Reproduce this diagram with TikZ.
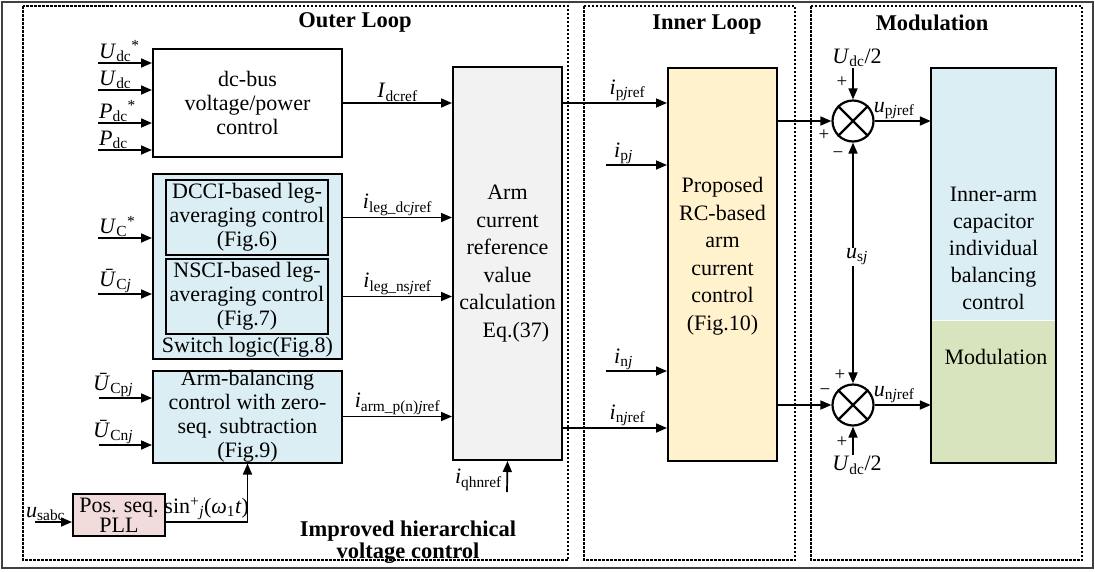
\documentclass[tikz,border=0pt]{standalone}
\usepackage{fontspec}
\setmainfont{Liberation Serif}
\usetikzlibrary{arrows.meta, calc}
\definecolor{blkblue}{HTML}{DAEEF3}
\definecolor{blkgrey}{HTML}{F2F2F2}
\definecolor{blkyellow}{HTML}{FFF2CC}
\definecolor{blkpink}{HTML}{F2DCDB}
\definecolor{blkgreen}{HTML}{D7E4BD}
\newcommand{\sgl}[2]{\textit{#1}\textsubscript{#2}}
\newcommand{\ubar}[1]{\textit{\=U}\textsubscript{#1}}

\begin{document}
\begin{tikzpicture}[
  x=1pt, y=-1pt,
  lbl/.style={font=\fontsize{22}{24}\selectfont, inner sep=1pt},
  blk/.style={draw=black, line width=2pt, align=center, inner sep=0pt,
              font=\fontsize{22}{24}\selectfont},
  tall/.style={blk, minimum width=109pt, minimum height=393pt,
               font=\fontsize{22}{27.5}\selectfont},
  sumjn/.style={circle, draw=black, line width=2.2pt, minimum size=41pt,
                inner sep=0pt},
  sig/.style={-{Triangle[length=11pt,width=9pt]}, line width=1.7pt},
  loopbox/.style={draw=black, line width=1.2pt, dash pattern=on 2.5pt off 1.5pt},
  title/.style={font=\fontsize{22.5}{19}\selectfont\bfseries, align=center},
  sgn/.style={font=\fontsize{19}{19}\selectfont, inner sep=0pt}]

  \useasboundingbox (0,0) rectangle (1095,571);
  \draw[line width=1.5pt, black!75] (2,2) rectangle (1093,568);

  % --- the three loops
  \draw[loopbox] (23,6) rectangle (568,560);
  \draw[loopbox] (584,6) rectangle (795,560);
  \draw[loopbox] (811,6) rectangle (1082,560);
  \node[title] (tout) at (355,22) {Outer Loop};
  \node[title] (tinn) at (707,25) {Inner Loop};
  \node[title] (tmod) at (932,23) {Modulation};
  \node[title] (timp) at (408,542) {Improved hierarchical\\voltage control};

  % --- outer loop blocks
  \node[blk, minimum width=189pt, minimum height=108pt] (dcbus) at (247.5,103)
    {dc-bus\\voltage/power\\control};
  \node[blk, fill=blkblue, minimum width=189pt, minimum height=185pt] (swl) at (247.5,266.5) {};
  \node[blk, fill=blkblue, minimum width=162pt, minimum height=75pt] (dcci) at (247,217.5)
    {DCCI-based leg-\\averaging control\\(Fig.6)};
  \node[blk, fill=blkblue, minimum width=162pt, minimum height=75pt] (nsci) at (247,296.5)
    {NSCI-based leg-\\averaging control\\(Fig.7)};
  \node[lbl] (swt) at (247.5,347) {Switch logic(Fig.8)};
  \node[blk, fill=blkblue, minimum width=189pt, minimum height=91pt] (armb) at (247.5,416.5)
    {Arm-balancing\\control with zero-\\seq. subtraction\\(Fig.9)};
  \node[blk, fill=blkpink, minimum width=92pt, minimum height=42pt,
        font=\fontsize{22}{18}\selectfont] (pll) at (119,515) {Pos. seq.\\PLL};
  \node[tall, fill=blkgrey] (calc) at (507.5,263.5)
    {Arm\\current\\reference\\value\\calculation\\\hspace*{17pt}Eq.(37)};

  % --- inputs on the left
  \foreach \y/\t [count=\i] in {63/{\sgl{U}{dc}\textsuperscript{*}}, 90/{\sgl{U}{dc}},
                                123/{\sgl{P}{dc}\textsuperscript{*}}, 150/{\sgl{P}{dc}}} {
    \coordinate (udc\i) at (98,\y);
    \node[lbl, anchor=south west] (ludc\i) at (udc\i) {\t};
    \draw[sig] (udc\i) -- (udc\i -| dcbus.west);
  }
  \foreach \y/\t [count=\i] in {238/{\sgl{U}{C}\textsuperscript{*}}, 294/{\ubar{C\textit{j}}}} {
    \coordinate (uc\i) at (98,\y);
    \node[lbl, anchor=south west] (luc\i) at (uc\i) {\t};
    \draw[sig] (uc\i) -- (uc\i -| swl.west);
  }
  \foreach \y/\t [count=\i] in {398/{\ubar{Cp\textit{j}}}, 445/{\ubar{Cn\textit{j}}}} {
    \coordinate (ucp\i) at (99,\y);
    \node[lbl, anchor=south west, xshift=-7pt] (lucp\i) at (ucp\i) {\t};
    \draw[sig] (ucp\i) -- (ucp\i -| armb.west);
  }

  % --- into the reference calculation
  \draw[sig] (dcbus.east) -- node[lbl, above] (lidc) {\sgl{I}{dcref}} (dcbus.east -| calc.west);
  \draw[sig] (dcci.east -| swl.east) -- node[lbl, above] (lidcj)
    {\sgl{i}{leg\_dc\textit{j}ref}} (dcci.east -| calc.west);
  \draw[sig] (nsci.east -| swl.east) -- node[lbl, above] (linsj)
    {\sgl{i}{leg\_ns\textit{j}ref}} (nsci.east -| calc.west);
  \draw[sig] (armb.east) -- node[lbl, above] (liarm)
    {\sgl{i}{arm\_p(n)\textit{j}ref}} (armb.east -| calc.west);
  \coordinate (qhn) at (507,492);
  \node[lbl, anchor=south east, xshift=-4pt] (lqhn) at (qhn) {\sgl{i}{qhnref}};
  \draw[sig] (qhn) -- (calc.south);

  % --- PLL
  \coordinate (usabc) at (35,522);
  \node[lbl, anchor=south west, xshift=-10pt] (lusabc) at (usabc) {\sgl{u}{sabc}};
  \draw[sig] (usabc) -- (usabc -| pll.west);
  \draw[sig] (usabc -| pll.east) -- node[lbl, above] (lsin)
    {sin\textsuperscript{+}\textsubscript{\textit{j}}(\textit{ω}\textsubscript{1}\textit{t})}
    (usabc -| armb.south) -- (armb.south);

  % --- inner loop
  \node[tall, fill=blkyellow] (rcc) at (722.5,264) {};
  \node[lbl, align=center, font=\fontsize{22}{27.5}\selectfont] (trcc) at (722.5,256)
    {Proposed\\RC-based\\arm\\current\\control\\(Fig.10)};
  \coordinate (njref) at (calc.east |- 0,428);
  \draw[sig] (dcbus.east -| calc.east) -- node[lbl, above, pos=0.62] (lipj)
    {\sgl{i}{p\textit{j}ref}} (dcbus.east -| rcc.west);
  \draw[sig] (njref) -- node[lbl, above, pos=0.62] (linj) {\sgl{i}{n\textit{j}ref}} (njref -| rcc.west);
  \foreach \n/\y/\t in {ipj/165/{\sgl{i}{p\textit{j}}}, inj/371/{\sgl{i}{n\textit{j}}}} {
    \coordinate (\n) at (606,\y);
    \node[lbl, anchor=south west, xshift=7pt] (l\n) at (\n) {\t};
    \draw[sig] (\n) -- (\n -| rcc.west);
  }

  % --- modulation
  \node[sumjn] (sp) at (853,121) {};
  \node[sumjn] (sn) at (853,405) {};
  \foreach \s in {sp, sn} \draw[line width=2.2pt] (\s.45) -- (\s.225) (\s.135) -- (\s.315);
  \node[minimum width=125pt, minimum height=252pt, fill=blkblue, anchor=north,
        inner sep=0pt] (iab) at (993.5,68) {};
  \node[minimum width=125pt, minimum height=142pt, fill=blkgreen, anchor=north,
        inner sep=0pt] (pwm) at (iab.south) {};
  \draw[line width=2pt] (iab.north west) rectangle (pwm.south east);
  \node[lbl, align=center, font=\fontsize{22}{27}\selectfont] (tiab) at (993.5,248)
    {Inner-arm\\capacitor\\individual\\balancing\\control};
  \node[lbl] (tpwm) at (996,357) {Modulation};

  \draw[sig] (rcc.east |- sp.west) -- (sp.west);
  \draw[sig] (rcc.east |- sn.west) -- (sn.west);
  \coordinate (udcp) at (853,68);
  \coordinate (udcn) at (853,455);
  \node[lbl, anchor=south, xshift=4pt] (ludcp) at (udcp) {\sgl{U}{dc}/2};
  \node[lbl, anchor=north, xshift=4pt] (ludcn) at (udcn) {\sgl{U}{dc}/2};
  \draw[sig] (udcp) -- (sp.north);
  \draw[sig] (udcn) -- (sn.south);
  \node[lbl] (usj) at (857,257) {\sgl{u}{s\textit{j}}};
  \draw[sig] (usj.north -| sp.south) -- (sp.south);
  \draw[sig] (usj.south -| sn.north) -- (sn.north);
  \draw[sig] (sp.east) -- node[lbl, above, pos=0.35] (lupj) {\sgl{u}{p\textit{j}ref}} (sp.east -| iab.west);
  \draw[sig] (sn.east) -- node[lbl, above, pos=0.35] (lunj) {\sgl{u}{n\textit{j}ref}} (sn.east -| pwm.west);

  % signs at the two junctions
  \node[sgn] (s1) at (842,82) {+};
  \node[sgn] (s2) at (824,135) {+};
  \node[sgn] (s3) at (838,155) {−};
  \node[sgn] (s4) at (840,375) {+};
  \node[sgn] (s5) at (825,392) {−};
  \node[sgn] (s6) at (842,442) {+};
\end{tikzpicture}
\end{document}
